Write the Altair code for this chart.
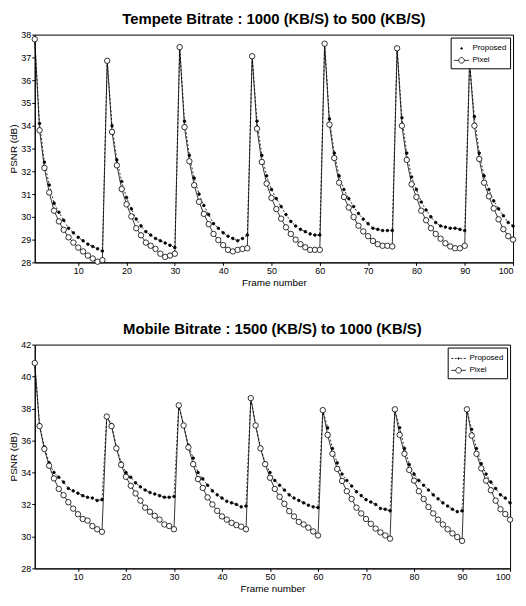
import altair as alt
import pandas as pd

frames = list(range(1, 101))
series_names = ["Proposed", "Pixel"]
x_ticks = [10, 20, 30, 40, 50, 60, 70, 80, 90, 100]

tempete_title = "Tempete Bitrate : 1000 (KB/S) to 500 (KB/S)"
tempete_y_ticks = list(range(28, 39))
tempete_proposed = [
    37.8, 34.1, 32.4, 31.4, 30.6, 30.2, 29.85, 29.5, 29.3, 29.1, 28.95, 28.8, 28.7, 28.6, 28.5,
    36.85, 34.0, 32.5, 31.55, 30.85, 30.35, 29.9, 29.6, 29.35, 29.2, 29.05, 28.95, 28.85, 28.75, 28.65,
    37.45, 34.2, 32.7, 31.7, 31.0, 30.5, 30.1, 29.7, 29.5, 29.3, 29.15, 29.05, 28.95, 29.05, 29.2,
    37.05, 34.2, 32.7, 31.8, 31.2, 30.8, 30.45, 30.1, 29.8, 29.6, 29.45, 29.35, 29.25, 29.2, 29.2,
    37.6, 34.3, 32.8, 31.8, 31.2, 30.8, 30.45, 30.15, 29.9, 29.7, 29.5, 29.45, 29.4, 29.4, 29.4,
    37.4, 34.35, 32.8, 31.75, 31.2, 30.65, 30.3, 30.0, 29.75, 29.6, 29.55, 29.5, 29.5, 29.45, 29.4,
    36.8, 34.4, 32.8, 31.8, 31.2, 30.7, 30.35, 30.05, 29.75, 29.6,
]
tempete_pixel = [
    37.8, 33.8, 32.15, 31.07, 30.27, 29.8, 29.43, 29.1, 28.87, 28.65, 28.48, 28.3, 28.17, 28.03, 28.1,
    36.85, 33.73, 32.26, 31.22, 30.55, 30.02, 29.5, 29.19, 28.87, 28.73, 28.59, 28.38, 28.24, 28.3, 28.38,
    37.45, 33.94, 32.44, 31.39, 30.66, 30.13, 29.68, 29.25, 28.98, 28.76, 28.55, 28.48, 28.55, 28.59, 28.62,
    37.05, 33.87, 32.41, 31.46, 30.83, 30.34, 29.92, 29.54, 29.25, 29.0, 28.8, 28.66, 28.55, 28.55, 28.55,
    37.6, 34.05, 32.58, 31.5, 30.87, 30.41, 29.99, 29.61, 29.36, 29.15, 28.94, 28.8, 28.73, 28.73, 28.7,
    37.4, 34.0, 32.5, 31.43, 30.87, 30.27, 29.85, 29.5, 29.25, 29.04, 28.84, 28.7, 28.62, 28.62, 28.73,
    36.8, 34.0, 32.54, 31.5, 30.9, 30.37, 29.89, 29.46, 29.15, 29.0,
]

mobile_title = "Mobile Bitrate : 1500 (KB/S) to 1000 (KB/S)"
mobile_y_ticks = list(range(28, 43, 2))
mobile_proposed = [
    40.85, 37.0, 35.6, 34.6, 34.0, 33.7, 33.4, 33.0, 32.85, 32.7, 32.55, 32.45, 32.4, 32.25, 32.3,
    37.5, 37.0, 35.6, 34.6, 34.0, 33.7, 33.35, 33.1, 32.9, 32.75, 32.65, 32.55, 32.45, 32.45, 32.5,
    38.2, 37.0, 35.7, 34.9, 34.0, 33.6, 33.2, 32.85, 32.6, 32.4, 32.2, 32.1, 32.0, 31.85, 31.9,
    38.65, 37.0, 35.6, 34.6, 34.0, 33.5, 33.2, 32.9, 32.6, 32.4, 32.25, 32.1, 31.95, 31.85, 31.8,
    37.9, 36.8, 35.5, 34.6, 33.9, 33.5, 33.15, 32.8, 32.55, 32.3, 32.15, 32.0, 31.75, 31.7, 31.6,
    37.95, 36.8, 35.5, 34.5, 33.9, 33.5, 33.2, 32.9, 32.6, 32.35, 32.1, 31.9, 31.7, 31.55, 31.6,
    37.95, 36.7, 35.5, 34.55, 33.9, 33.4, 33.0, 32.6, 32.4, 32.1,
]
mobile_pixel = [
    40.85, 36.9, 35.47, 34.42, 33.63, 32.97, 32.58, 32.14, 31.74, 31.39, 31.09, 30.99, 30.65, 30.45, 30.29,
    37.5, 36.9, 35.51, 34.48, 33.73, 33.17, 32.69, 32.24, 31.8, 31.54, 31.29, 31.05, 30.75, 30.65, 30.45,
    38.2, 36.94, 35.57, 34.52, 33.59, 33.03, 32.44, 32.0, 31.6, 31.25, 31.05, 30.85, 30.71, 30.61, 30.45,
    38.65, 36.94, 35.51, 34.52, 33.67, 32.97, 32.48, 32.04, 31.58, 31.25, 30.91, 30.75, 30.55, 30.31, 30.06,
    37.9, 36.35, 35.17, 34.22, 33.47, 32.83, 32.34, 31.8, 31.44, 31.09, 30.79, 30.49, 30.25, 30.06, 29.86,
    37.95, 36.35, 35.17, 34.16, 33.49, 32.83, 32.34, 31.84, 31.44, 31.05, 30.75, 30.45, 30.19, 29.96, 29.72,
    37.95, 36.31, 35.17, 34.26, 33.49, 32.89, 32.24, 31.7, 31.4, 31.05,
]

PIXEL_SYMBOL = "M-1,0H-0.38M0.38,0H1M0.38,0A0.38,0.38,0,1,1,-0.38,0A0.38,0.38,0,1,1,0.38,0"
DOT_SYMBOL = "M0.12,0A0.12,0.12,0,1,1,-0.12,0A0.12,0.12,0,1,1,0.12,0"
DASHDOT_SYMBOL = ("M-1,0H-0.7M-0.5,0H-0.25M0.25,0H0.5M0.7,0H1"
                  "M0.1,0A0.1,0.1,0,1,1,-0.1,0A0.1,0.1,0,1,1,0.1,0")


def panel(title, proposed, pixel, y_domain, y_ticks, proposed_symbol, width, height):
    df = pd.DataFrame({
        "frame": frames + frames,
        "psnr": proposed + pixel,
        "series": ["Proposed"] * len(proposed) + ["Pixel"] * len(pixel),
    })
    base = alt.Chart(df)
    x = alt.X("frame:Q", scale=alt.Scale(domain=[1, 100], nice=False, zero=False),
              axis=alt.Axis(values=x_ticks, title="Frame number"))
    y = alt.Y("psnr:Q", scale=alt.Scale(domain=y_domain, nice=False, zero=False),
              axis=alt.Axis(values=y_ticks, title="PSNR (dB)"))
    legend = alt.Legend(
        title=None, orient="top-right", offset=3, strokeColor="black", fillColor="white",
        padding=3, labelFontSize=8, labelFont="Liberation Sans", labelColor="black",
        symbolSize=220, rowPadding=0, labelOffset=3, symbolStrokeWidth=0.8,
        symbolStrokeColor="black", symbolOpacity=1,
    )
    fill_scale = alt.Scale(domain=series_names, range=["black", "white"])
    line_proposed = base.transform_filter("datum.series === 'Proposed'").mark_line(
        color="black", strokeWidth=0.8, strokeDash=[2, 2]
    ).encode(x=x, y=y)
    line_pixel = base.transform_filter("datum.series === 'Pixel'").mark_line(
        color="black", strokeWidth=0.8
    ).encode(x=x, y=y)
    points = base.mark_point(stroke="black", strokeWidth=0.8, opacity=1).encode(
        x=x, y=y,
        fill=alt.Fill("series:N", scale=fill_scale, legend=legend),
        size=alt.condition("datum.series === 'Pixel'", alt.value(30), alt.value(7)),
    )
    legend_layer = base.transform_filter("datum.frame < 0").mark_point(
        stroke="black", strokeWidth=0.8, opacity=1
    ).encode(
        x=x, y=y,
        shape=alt.Shape("series:N", scale=alt.Scale(domain=series_names,
                                                      range=[proposed_symbol, PIXEL_SYMBOL]),
                        legend=legend),
        fill=alt.Fill("series:N", scale=fill_scale, legend=legend),
        stroke=alt.Stroke("series:N", scale=alt.Scale(domain=series_names,
                                                        range=["black", "black"]),
                          legend=legend),
    )
    return alt.layer(line_proposed, line_pixel, points, legend_layer).properties(
        width=width, height=height,
        title=alt.TitleParams(title, fontSize=15, font="Liberation Sans", fontWeight="bold",
                              color="black", offset=4, anchor="middle"),
    )


top = panel(tempete_title, tempete_proposed, tempete_pixel, [28, 38], tempete_y_ticks,
            DOT_SYMBOL, 483, 230)
bottom = panel(mobile_title, mobile_proposed, mobile_pixel, [28, 42], mobile_y_ticks,
               DASHDOT_SYMBOL, 480, 226)

chart = alt.vconcat(top, bottom, spacing=33).resolve_scale(
    fill="independent", shape="independent", stroke="independent"
).resolve_legend(
    fill="independent", shape="independent", stroke="independent"
).properties(
    padding={"left": 0, "top": 0, "right": 0, "bottom": 0}
).configure_view(
    stroke="black", strokeWidth=1
).configure_axis(
    grid=False, domainColor="black", tickColor="black", tickSize=3,
    labelFont="Liberation Sans", labelFontSize=9, labelColor="black", labelPadding=1,
    titleFont="Liberation Sans", titleFontSize=10, titleFontWeight="normal", titleColor="black",
    titlePadding=2,
)

chart.save("out.html", embed_options={"renderer": "svg", "actions": False})
